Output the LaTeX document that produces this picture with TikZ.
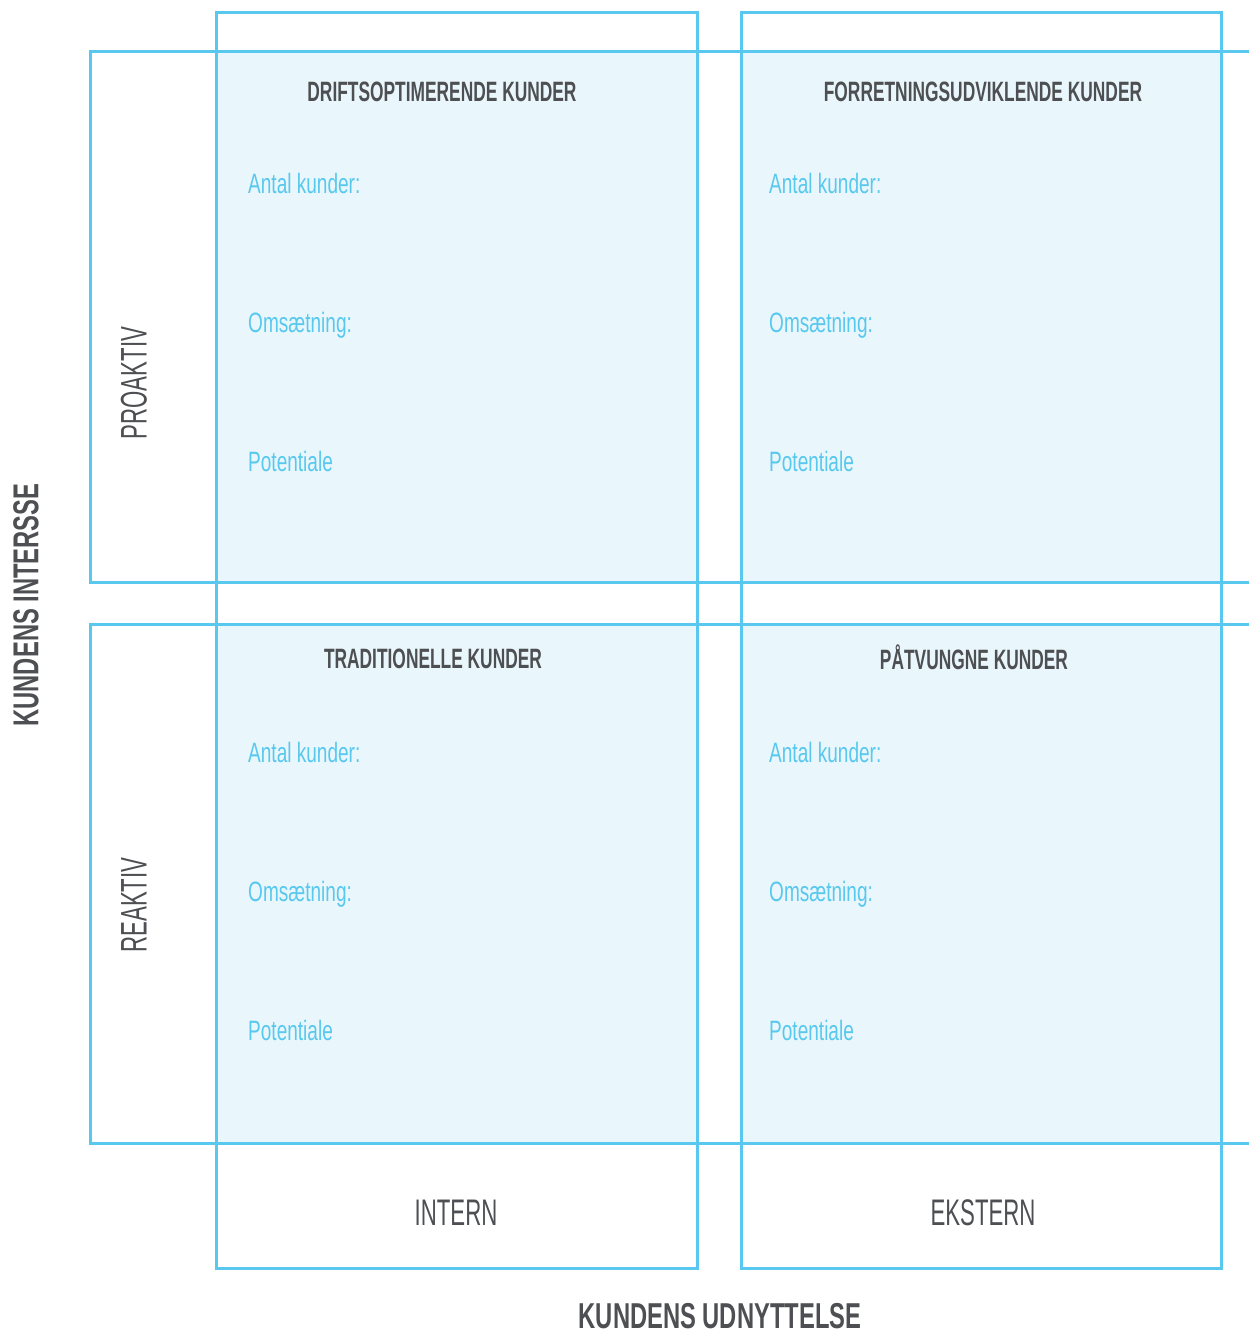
\documentclass[tikz,border=0pt]{standalone}
\usepackage{fontspec}
\setmainfont{Liberation Sans}
\newfontfamily\headfont[FakeStretch=0.62]{Liberation Sans}
\newfontfamily\fieldfont[FakeStretch=0.68]{Liberation Sans}
\newfontfamily\sidefont[FakeStretch=0.6]{Liberation Sans}
\newfontfamily\axisfont[FakeStretch=0.66]{Liberation Sans}
\definecolor{gridblue}{RGB}{88,200,238}
\definecolor{cellfill}{RGB}{233,247,252}
\definecolor{titlegray}{RGB}{77,79,82}

\begin{document}
\begin{tikzpicture}[x=1pt,y=-1pt]

%
% Styles
%
\tikzstyle{frame} = [draw=gridblue,line width=3pt]
\tikzstyle{cell}  = [fill=cellfill]
\tikzstyle{title} = [text=titlegray,font=\headfont\bfseries\fontsize{28}{32}\selectfont]
\tikzstyle{field} = [text=gridblue,anchor=base west,inner xsep=0pt,font=\fieldfont\fontsize{28}{32}\selectfont]
\tikzstyle{side}  = [text=titlegray,font=\sidefont\fontsize{37}{40}\selectfont]
\tikzstyle{axis}  = [text=titlegray,font=\axisfont\bfseries\fontsize{36}{40}\selectfont]

\useasboundingbox (0,0) rectangle (1248,1335);

% cells
\fill[cell] (216,52)  rectangle (697,582);
\fill[cell] (741,52)  rectangle (1221,582);
\fill[cell] (216,624) rectangle (697,1143);
\fill[cell] (741,624) rectangle (1221,1143);

% frames
\draw[frame] (216,13) rectangle (697,1268);
\draw[frame] (741,13) rectangle (1221,1268);
\draw[frame] (90,52)  rectangle (1270,582);
\draw[frame] (90,624) rectangle (1270,1143);

% quadrant titles
\node[title] (drift)  at (442,92)  {DRIFTSOPTIMERENDE KUNDER};
\node[title] (forret) at (983,92)  {FORRETNINGSUDVIKLENDE KUNDER};
\node[title] (trad)   at (433,659) {TRADITIONELLE KUNDER};
\node[title] (paatv)  at (974,657) {PÅTVUNGNE KUNDER};

% fields
\node[field] (antalA) at (248,193)  {Antal kunder:};
\node[field] (omsA)   at (248,332)  {Omsætning:};
\node[field] (potA)   at (248,471)  {Potentiale};
\node[field] (antalB) at (769,193)  {Antal kunder:};
\node[field] (omsB)   at (769,332)  {Omsætning:};
\node[field] (potB)   at (769,471)  {Potentiale};
\node[field] (antalC) at (248,762)  {Antal kunder:};
\node[field] (omsC)   at (248,901)  {Omsætning:};
\node[field] (potC)   at (248,1040) {Potentiale};
\node[field] (antalD) at (769,762)  {Antal kunder:};
\node[field] (omsD)   at (769,901)  {Omsætning:};
\node[field] (potD)   at (769,1040) {Potentiale};

% row and column headings
\node[side,rotate=90] (proaktiv) at (134,383)  {PROAKTIV};
\node[side,rotate=90] (reaktiv)  at (134,905)  {REAKTIV};
\node[side] (intern)  at (456,1213) {INTERN};
\node[side] (ekstern) at (983,1213) {EKSTERN};

% axes
\node[axis,rotate=90] (interesse) at (26,605)  {KUNDENS INTERSSE};
\node[axis] (udnyttelse) at (720,1316) {KUNDENS UDNYTTELSE};

\end{tikzpicture}
\end{document}
